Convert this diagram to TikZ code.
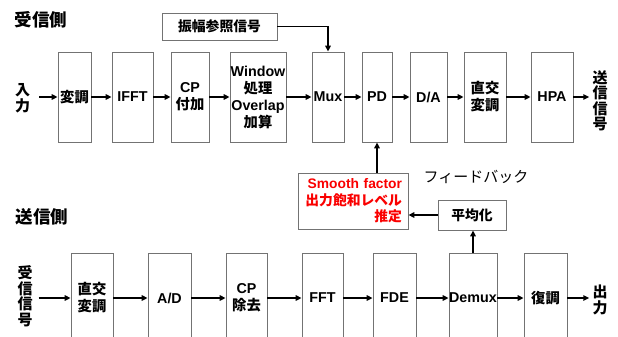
\documentclass[tikz,border=0pt]{standalone}
\usepackage{fontspec}
\setmainfont{Liberation Sans}
\newfontfamily\jp{Noto Sans CJK JP}
\usetikzlibrary{arrows.meta,calc}
\newcommand\J[1]{{\jp #1}}
\definecolor{boxgray}{RGB}{115,115,115}
\definecolor{fbred}{RGB}{250,0,0}
\begin{document}
\begin{tikzpicture}[x=1pt,y=-1pt,
  blk/.style={draw=boxgray,line width=0.8pt,inner sep=0pt,minimum height=90pt,align=center,
    font=\fontsize{14.3}{17}\selectfont\bfseries},
  smallbox/.style={draw=boxgray,line width=0.8pt,inner sep=0pt,align=center,
    font=\fontsize{13.8}{16}\selectfont\bfseries},
  endlbl/.style={inner sep=0pt,align=center,font=\fontsize{15}{15.5}\selectfont\bfseries},
  title/.style={inner sep=0pt,font=\fontsize{17.5}{20}\selectfont\bfseries},
  arr/.style={-{Triangle[length=6pt,width=5.5pt]},line width=1.4pt,black},
]
\useasboundingbox (0,0) rectangle (618,337);
\clip (0,0) rectangle (618,337);

% titles
\node[title] (t1) at (41,20) {\J{受信側}};
\node[title] (t2) at (42,217) {\J{送信側}};

% top row
\node[endlbl] (in) at (22.5,98) {\J{入}\\\J{力}};
\node[blk,minimum width=33pt] (a1) at (74.5,97) {\J{変調}};
\node[blk,minimum width=41pt] (a2) at (132.5,97) {IFFT};
\node[blk,minimum width=38pt] (a3) at (190,97) {CP\\\J{付加}};
\node[blk,minimum width=56pt] (a4) at (258,97) {Window\\\J{処理}\\Overlap\\\J{加算}};
\node[blk,minimum width=32pt] (a5) at (328,97) {Mux};
\node[blk,minimum width=30pt] (a6) at (377,97) {PD};
\node[blk,minimum width=37pt] (a7) at (428.5,97) {D/A};
\node[blk,minimum width=42pt] (a8) at (485,97) {\J{直交}\\\J{変調}};
\node[blk,minimum width=42pt] (a9) at (552,97) {HPA};
\node[endlbl] (out1) at (600,101) {\J{送}\\\J{信}\\\J{信}\\\J{号}};

\node[smallbox,minimum width=115pt,minimum height=27pt] (ref) at (219.5,26.5) {\J{振幅参照信号}};

% feedback part
\node[draw=boxgray,line width=0.8pt,text=fbred,inner xsep=6pt,inner ysep=0pt,text width=98pt,
  minimum height=56pt,align=right,font=\fontsize{13.8}{16.5}\selectfont\bfseries] (sm) at (353,201)
  {Smooth factor\\\J{出力飽和レベル}\\\J{推定}};
\node[inner sep=0pt,font=\fontsize{15}{16}\selectfont] (fb) at (476,177) {\J{フィードバック}};
\node[smallbox,minimum width=68pt,minimum height=30pt] (avg) at (472,215) {\J{平均化}};

% bottom row
\node[endlbl] (in2) at (25,296) {\J{受}\\\J{信}\\\J{信}\\\J{号}};
\node[blk,minimum width=42pt] (b1) at (92,298) {\J{直交}\\\J{変調}};
\node[blk,minimum width=43pt] (b2) at (169.5,298) {A/D};
\node[blk,minimum width=41pt] (b3) at (246.5,298) {CP\\\J{除去}};
\node[blk,minimum width=41pt] (b4) at (322.5,298) {FFT};
\node[blk,minimum width=43pt] (b5) at (394.5,298) {FDE};
\node[blk,minimum width=48pt] (b6) at (473,298) {Demux};
\node[blk,minimum width=43pt] (b7) at (545.5,298) {\J{復調}};
\node[endlbl] (out2) at (600,300) {\J{出}\\\J{力}};

% top arrows
\draw[arr,shorten <=9pt] (in.east |- a1) -- (a1);
\draw[arr] (a1) -- (a2);
\draw[arr] (a2) -- (a3);
\draw[arr] (a3) -- (a4);
\draw[arr] (a4) -- (a5);
\draw[arr] (a5) -- (a6);
\draw[arr] (a6) -- (a7);
\draw[arr] (a7) -- (a8);
\draw[arr] (a8) -- (a9);
\draw[arr,shorten >=3pt] (a9.east) -- (out1.west |- a9);
\draw[arr] (ref.east) -| (a5.north);

% feedback arrows
\draw[arr] (a6.south |- sm.north) -- (a6.south);
\draw[arr] (avg.west) -- (avg.west -| sm.east);
\draw[arr] (b6.north) -- (b6.north |- avg.south);

% bottom arrows
\draw[arr,shorten <=6pt] (in2.east |- b1) -- (b1);
\draw[arr] (b1) -- (b2);
\draw[arr] (b2) -- (b3);
\draw[arr] (b3) -- (b4);
\draw[arr] (b4) -- (b5);
\draw[arr] (b5) -- (b6);
\draw[arr] (b6) -- (b7);
\draw[arr,shorten >=3pt] (b7.east) -- (out2.west |- b7);
\end{tikzpicture}
\end{document}
